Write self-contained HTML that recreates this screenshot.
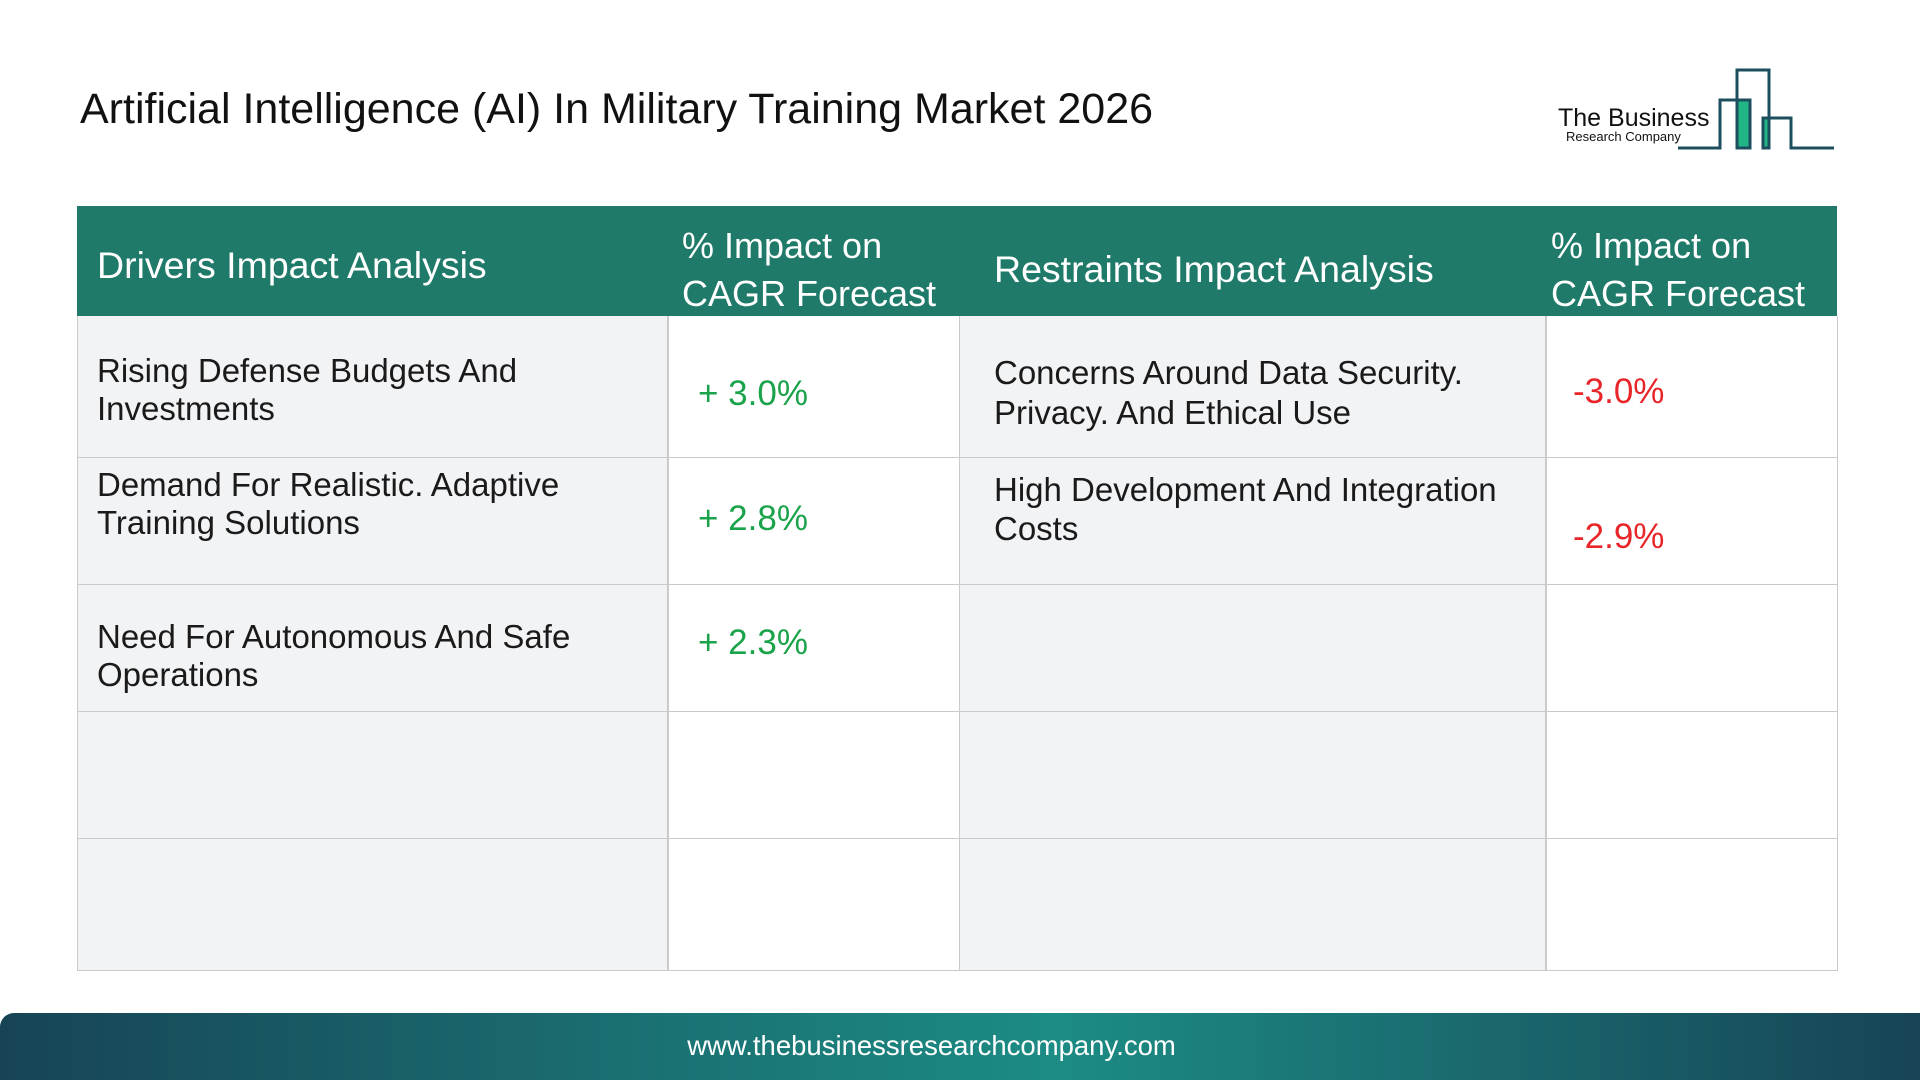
<!DOCTYPE html>
<html><head><meta charset="utf-8"><style>
body{margin:0;width:1920px;height:1080px;background:#fff;position:relative;overflow:hidden;font-family:"Liberation Sans",sans-serif;}
.a{position:absolute;white-space:nowrap;}
.t{font-size:33px;color:#1a1a1a;line-height:38px;}
.h{font-size:37.5px;color:#fff;line-height:40px;}
.h2{font-size:36px;color:#fff;line-height:40px;}
.g{font-size:35px;color:#1aa34a;}
.r{font-size:35px;color:#e8262a;}
</style></head><body>
<div class="a" style="left:80px;top:85px;font-size:43px;color:#111;">Artificial Intelligence (AI) In Military Training Market 2026</div>
<svg class="a" style="left:1530px;top:50px" width="330" height="120">
<text x="28" y="76" font-family="Liberation Sans" font-size="25" fill="#111">The Business</text>
<text x="36" y="91" font-family="Liberation Sans" font-size="13" fill="#111">Research Company</text>
<rect x="207" y="51" width="12" height="47" fill="#22b585"/>
<rect x="233" y="68" width="6" height="30" fill="#22b585"/>
<polyline points="148,98 190,98 190,50 220,50 220,98 207,98 207,20 239,20 239,98 233,98 233,68 261,68 261,98 304,98" fill="none" stroke="#1d4e5e" stroke-width="3"/>
</svg>
<div class="a" style="left:77px;top:206px;width:1760px;height:110px;background:#1f7a6a"></div>
<div class="a" style="left:77px;top:316px;width:590px;height:655px;background:#f2f3f5"></div>
<div class="a" style="left:959px;top:316px;width:586px;height:655px;background:#f2f3f5"></div>
<div class="a" style="left:77px;top:316px;width:1759px;height:654px;border:1px solid #c8cacc;border-top:none"></div>
<div class="a" style="left:667px;top:316px;width:2px;height:655px;background:#c8cacc"></div>
<div class="a" style="left:959px;top:316px;width:1px;height:655px;background:#c8cacc"></div>
<div class="a" style="left:1545px;top:316px;width:2px;height:655px;background:#c8cacc"></div>
<div class="a" style="left:77px;top:457px;width:1760px;height:1px;background:#c8cacc"></div>
<div class="a" style="left:77px;top:584px;width:1760px;height:1px;background:#c8cacc"></div>
<div class="a" style="left:77px;top:711px;width:1760px;height:1px;background:#c8cacc"></div>
<div class="a" style="left:77px;top:838px;width:1760px;height:1px;background:#c8cacc"></div>

<div class="a h" style="left:97px;top:245px">Drivers Impact Analysis</div>
<div class="a h2" style="left:682px;top:226px">% Impact on</div>
<div class="a h2" style="left:682px;top:274px">CAGR Forecast</div>
<div class="a h" style="left:994px;top:249px">Restraints Impact Analysis</div>
<div class="a h2" style="left:1551px;top:226px">% Impact on</div>
<div class="a h2" style="left:1551px;top:274px">CAGR Forecast</div>

<div class="a t" style="left:97px;top:352px">Rising Defense Budgets And</div>
<div class="a t" style="left:97px;top:390px">Investments</div>
<div class="a g" style="left:698px;top:374px">+ 3.0%</div>
<div class="a t" style="left:994px;top:354px">Concerns Around Data Security.</div>
<div class="a t" style="left:994px;top:394px">Privacy. And Ethical Use</div>
<div class="a r" style="left:1573px;top:372px">-3.0%</div>

<div class="a t" style="left:97px;top:466px">Demand For Realistic. Adaptive</div>
<div class="a t" style="left:97px;top:504px">Training Solutions</div>
<div class="a g" style="left:698px;top:499px">+ 2.8%</div>
<div class="a t" style="left:994px;top:471px">High Development And Integration</div>
<div class="a t" style="left:994px;top:510px">Costs</div>
<div class="a r" style="left:1573px;top:517px">-2.9%</div>

<div class="a t" style="left:97px;top:618px">Need For Autonomous And Safe</div>
<div class="a t" style="left:97px;top:656px">Operations</div>
<div class="a g" style="left:698px;top:623px">+ 2.3%</div>

<div class="a" style="left:0;top:1013px;width:1920px;height:67px;border-top-left-radius:14px;background:linear-gradient(90deg,#174455 0%,#1c8c84 55%,#174455 100%)"></div>
<div class="a" style="left:0;top:1030px;width:1863px;text-align:center;color:#fff;font-size:27.5px">www.thebusinessresearchcompany.com</div>
</body></html>
